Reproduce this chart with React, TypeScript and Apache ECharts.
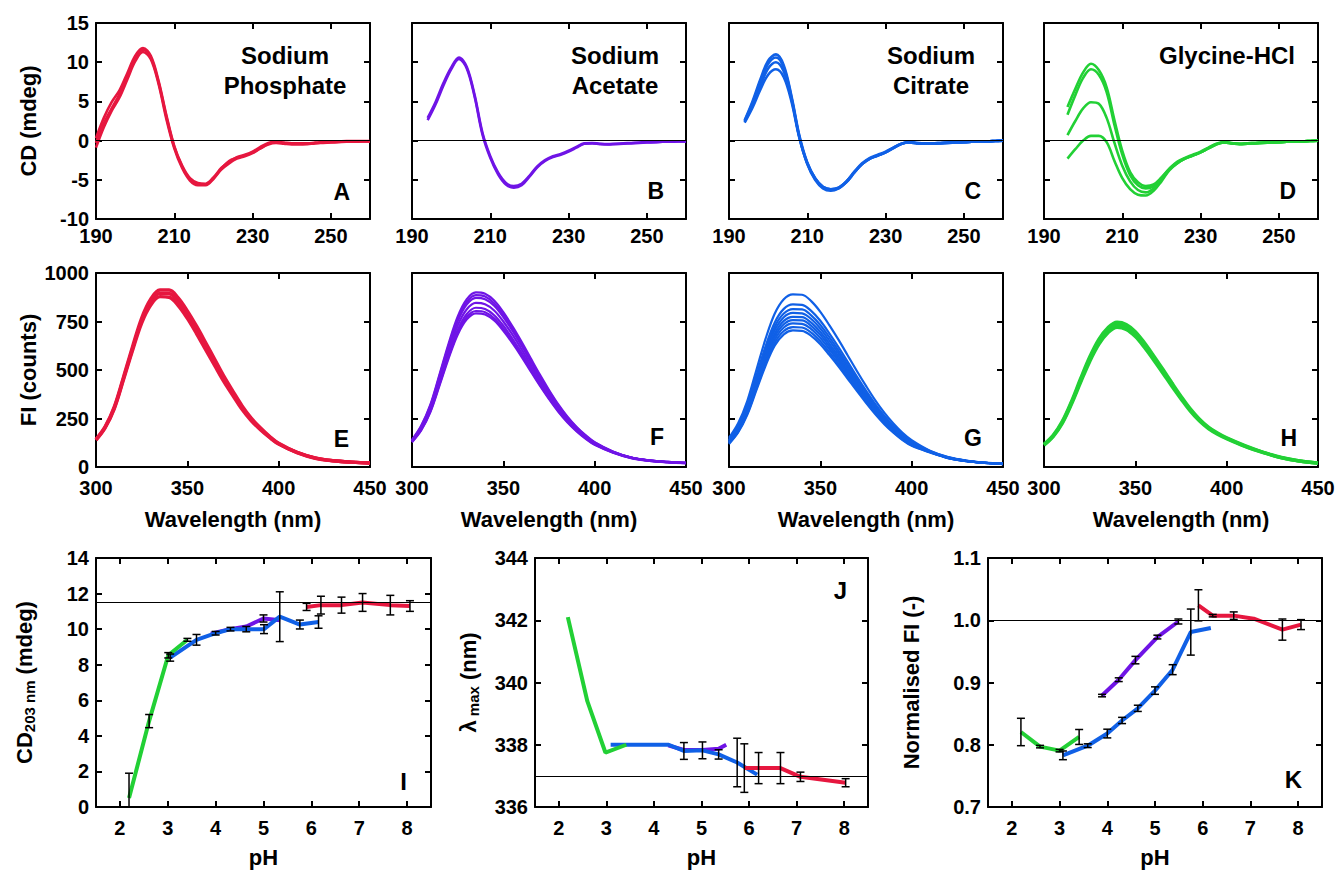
import React, { useEffect, useRef } from 'react';
import * as echarts from 'echarts';

const FONT = '"Liberation Sans", Arial, Helvetica, sans-serif';
const RED = '#E6173F';
const PURPLE = '#6F14E6';
const BLUE = '#1060E6';
const GREEN = '#22D035';

// ---------- CD spectra (panels A-D) ----------
const CD_WL = [190, 192, 194, 196, 198, 200, 202, 204, 206, 208, 210, 212, 214, 216, 218, 220, 222, 224, 226, 228, 230, 232, 234, 236, 238, 240, 242, 244, 246, 248, 250, 252, 254, 256, 258, 260];
const CD_X_TICKS = [190, 210, 230, 250];
const CD_Y_TICKS = [-10, -5, 0, 5, 10, 15];

const CD_PHOSPHATE_1 = [-0.3, 2.2, 4.1, 5.9, 8.1, 10.4, 11.6, 10.6, 7.4, 3.0, -0.8, -3.3, -4.9, -5.5, -5.6, -4.8, -3.6, -2.6, -2.2, -1.9, -1.5, -1.0, -0.4, -0.15, -0.3, -0.4, -0.4, -0.4, -0.3, -0.25, -0.2, -0.15, -0.1, -0.1, -0.1, -0.1];
const CD_PHOSPHATE_2 = [0.3, 2.9, 4.9, 6.4, 8.6, 10.8, 11.8, 10.8, 7.6, 3.2, -0.7, -3.2, -4.8, -5.4, -5.5, -4.7, -3.5, -2.7, -2.1, -1.8, -1.4, -0.8, -0.3, -0.15, -0.25, -0.35, -0.35, -0.35, -0.25, -0.2, -0.15, -0.1, -0.05, -0.05, -0.05, -0.05];
const CD_PHOSPHATE_3 = [-0.9, 1.7, 3.8, 5.5, 7.8, 10.1, 11.3, 10.4, 7.2, 2.7, -1.0, -3.5, -5.1, -5.7, -5.7, -4.9, -3.7, -2.9, -2.3, -2.0, -1.6, -1.0, -0.5, -0.3, -0.4, -0.5, -0.5, -0.45, -0.35, -0.3, -0.25, -0.2, -0.15, -0.15, -0.1, -0.1];

const CD_ACETATE_1 = [null, null, 2.9, 4.9, 7.3, 9.3, 10.6, 9.4, 5.8, 1.0, -2.0, -4.1, -5.4, -5.8, -5.5, -4.5, -3.3, -2.5, -2.0, -1.7, -1.3, -0.8, -0.35, -0.3, -0.4, -0.45, -0.4, -0.35, -0.3, -0.25, -0.2, -0.2, -0.15, -0.1, -0.1, -0.1];
const CD_ACETATE_2 = [null, null, 2.6, 4.6, 7.0, 9.1, 10.4, 9.2, 5.6, 0.8, -2.2, -4.3, -5.6, -6.0, -5.7, -4.6, -3.4, -2.6, -2.1, -1.8, -1.4, -0.9, -0.4, -0.35, -0.45, -0.5, -0.45, -0.4, -0.35, -0.3, -0.25, -0.2, -0.15, -0.15, -0.1, -0.1];

const CD_CITRATE_1 = [null, null, 2.6, 5.0, 7.8, 10.2, 11.0, 9.6, 5.6, 0.6, -2.8, -4.8, -5.9, -6.2, -6.0, -5.2, -4.0, -2.9, -2.2, -1.8, -1.4, -0.9, -0.4, -0.2, -0.3, -0.35, -0.35, -0.3, -0.25, -0.2, -0.2, -0.15, -0.1, -0.1, -0.05, 0];
const CD_CITRATE_2 = [null, null, 2.5, 4.8, 7.5, 9.8, 10.6, 9.3, 5.4, 0.4, -3.0, -5.0, -6.1, -6.4, -6.1, -5.3, -4.1, -3.0, -2.3, -1.9, -1.5, -0.95, -0.45, -0.25, -0.35, -0.4, -0.4, -0.35, -0.3, -0.25, -0.2, -0.15, -0.1, -0.1, -0.05, 0];
const CD_CITRATE_3 = [null, null, 2.4, 4.5, 7.0, 9.2, 10.0, 8.8, 5.2, 0.4, -2.9, -4.9, -6.0, -6.3, -6.1, -5.3, -4.1, -3.0, -2.3, -1.9, -1.5, -0.95, -0.45, -0.25, -0.35, -0.4, -0.4, -0.35, -0.3, -0.25, -0.2, -0.15, -0.1, -0.1, -0.05, 0];
const CD_CITRATE_4 = [null, null, 2.3, 4.2, 6.5, 8.4, 9.1, 8.1, 4.9, 0.3, -2.9, -4.8, -5.9, -6.2, -6.0, -5.2, -4.0, -3.0, -2.3, -1.9, -1.5, -0.9, -0.4, -0.2, -0.3, -0.35, -0.35, -0.3, -0.25, -0.2, -0.2, -0.15, -0.1, -0.1, -0.05, 0];

const CD_GLYCINE_1 = [null, null, null, 4.3, 6.6, 8.7, 9.8, 9.0, 6.8, 2.6, -1.3, -4.0, -5.3, -5.8, -5.6, -4.7, -3.6, -2.7, -2.2, -1.8, -1.4, -0.9, -0.4, -0.2, -0.3, -0.4, -0.35, -0.3, -0.25, -0.2, -0.2, -0.15, -0.1, -0.1, -0.05, 0];
const CD_GLYCINE_2 = [null, null, null, 3.3, 5.8, 8.0, 9.1, 8.4, 6.2, 2.0, -1.8, -4.4, -5.7, -6.1, -5.8, -4.8, -3.6, -2.8, -2.3, -1.9, -1.5, -0.95, -0.45, -0.25, -0.35, -0.4, -0.35, -0.3, -0.25, -0.2, -0.2, -0.15, -0.1, -0.1, -0.05, 0];
const CD_GLYCINE_3 = [null, null, null, 0.7, 2.5, 4.1, 4.9, 4.7, 2.9, -0.3, -3.2, -5.2, -6.3, -6.6, -6.1, -5.0, -3.7, -2.9, -2.3, -1.9, -1.5, -1.0, -0.5, -0.25, -0.35, -0.45, -0.4, -0.35, -0.3, -0.25, -0.2, -0.15, -0.1, -0.1, -0.05, 0];
const CD_GLYCINE_4 = [null, null, null, -2.3, -1.1, 0.0, 0.6, 0.6, -0.2, -2.6, -4.8, -6.2, -6.9, -7.0, -6.4, -5.2, -3.8, -2.9, -2.3, -1.9, -1.5, -1.0, -0.5, -0.25, -0.35, -0.45, -0.4, -0.35, -0.3, -0.25, -0.2, -0.15, -0.1, -0.1, -0.05, 0];

// ---------- Fluorescence spectra (panels E-H) ----------
const FI_WL = [300, 305, 310, 315, 320, 325, 330, 335, 340, 345, 350, 355, 360, 365, 370, 375, 380, 385, 390, 395, 400, 410, 420, 430, 440, 450];
const FI_X_TICKS = [300, 350, 400, 450];
const FI_Y_TICKS = [0, 250, 500, 750, 1000];

const FI_PHOSPHATE_1 = [143, 208, 310, 462, 620, 768, 866, 912, 912, 872, 805, 727, 642, 555, 468, 390, 315, 252, 202, 158, 122, 76, 47, 32, 25, 21];
const FI_PHOSPHATE_2 = [141, 205, 305, 455, 610, 755, 851, 895, 894, 852, 786, 708, 624, 539, 454, 379, 306, 245, 197, 155, 120, 75, 46, 32, 25, 21];
const FI_PHOSPHATE_3 = [139, 202, 300, 448, 600, 742, 835, 878, 875, 832, 766, 688, 605, 522, 440, 367, 296, 238, 192, 152, 118, 74, 45, 32, 25, 21];

const FI_ACETATE_1 = [140, 212, 320, 475, 635, 775, 865, 900, 893, 858, 798, 725, 645, 560, 476, 397, 324, 261, 208, 164, 128, 80, 49, 34, 26, 21];
const FI_ACETATE_2 = [138, 209, 315, 468, 625, 763, 851, 886, 879, 844, 785, 713, 635, 551, 468, 391, 319, 257, 205, 162, 126, 79, 49, 34, 26, 21];
const FI_ACETATE_3 = [136, 205, 310, 460, 615, 751, 838, 872, 865, 831, 773, 703, 625, 543, 461, 385, 314, 253, 202, 159, 124, 78, 48, 33, 26, 21];
const FI_ACETATE_4 = [134, 200, 301, 447, 597, 729, 813, 846, 839, 807, 750, 682, 606, 526, 447, 373, 305, 246, 196, 155, 121, 77, 48, 33, 25, 21];
const FI_ACETATE_5 = [131, 195, 292, 434, 580, 707, 789, 821, 814, 782, 728, 661, 588, 511, 434, 362, 296, 239, 191, 151, 118, 76, 47, 33, 25, 20];
const FI_ACETATE_6 = [130, 191, 286, 425, 567, 692, 773, 804, 798, 766, 713, 647, 576, 500, 425, 355, 290, 234, 187, 148, 116, 75, 47, 32, 25, 20];
const FI_ACETATE_7 = [128, 188, 282, 418, 559, 682, 761, 792, 786, 755, 702, 638, 568, 493, 419, 350, 286, 231, 185, 146, 114, 74, 46, 32, 24, 20];

const FI_CITRATE_1 = [150, 225, 340, 500, 660, 790, 865, 890, 888, 855, 800, 730, 655, 575, 495, 418, 345, 280, 224, 176, 138, 84, 51, 33, 23, 17];
const FI_CITRATE_2 = [141, 212, 320, 471, 622, 744, 815, 838, 836, 805, 754, 688, 617, 542, 466, 394, 325, 264, 211, 166, 130, 82, 50, 32, 22, 17];
const FI_CITRATE_3 = [137, 206, 311, 458, 604, 723, 791, 814, 813, 782, 732, 668, 599, 526, 453, 382, 316, 256, 205, 161, 126, 80, 49, 32, 22, 16];
const FI_CITRATE_4 = [134, 201, 303, 446, 589, 705, 772, 794, 792, 763, 714, 651, 584, 513, 442, 373, 308, 250, 200, 157, 123, 79, 48, 31, 22, 16];
const FI_CITRATE_5 = [131, 196, 296, 435, 574, 687, 753, 774, 773, 744, 696, 635, 570, 500, 431, 364, 300, 244, 195, 153, 120, 79, 48, 31, 22, 16];
const FI_CITRATE_6 = [128, 191, 289, 426, 562, 672, 736, 757, 756, 728, 681, 621, 557, 489, 421, 356, 294, 238, 191, 150, 117, 78, 47, 31, 21, 16];
const FI_CITRATE_7 = [125, 187, 283, 416, 548, 656, 719, 740, 738, 711, 665, 607, 544, 478, 411, 347, 287, 233, 186, 146, 115, 77, 47, 30, 21, 16];
const FI_CITRATE_8 = [122, 182, 275, 405, 535, 640, 701, 721, 719, 693, 648, 591, 531, 466, 401, 339, 279, 227, 181, 143, 112, 76, 46, 30, 21, 15];
const FI_CITRATE_9 = [119, 178, 269, 396, 522, 625, 684, 704, 702, 676, 633, 577, 518, 455, 392, 331, 273, 221, 177, 139, 109, 75, 46, 30, 21, 15];

const FI_GLYCINE_1 = [117, 163, 235, 337, 455, 567, 658, 718, 746, 735, 698, 640, 574, 505, 434, 365, 301, 248, 206, 175, 150, 110, 76, 49, 31, 20];
const FI_GLYCINE_2 = [115, 160, 230, 330, 445, 555, 645, 705, 733, 722, 685, 628, 563, 495, 425, 358, 295, 243, 202, 172, 148, 108, 75, 48, 31, 20];
const FI_GLYCINE_3 = [113, 157, 225, 323, 435, 543, 632, 692, 720, 709, 672, 616, 552, 485, 416, 351, 289, 238, 198, 169, 146, 106, 74, 47, 30, 20];

// ---------- pH dependence (panels I-K) ----------
const PH_TICKS = [2, 3, 4, 5, 6, 7, 8];

const I_Y_TICKS = [0, 2, 4, 6, 8, 10, 12, 14];
const I_GLY_PH = [2.19, 2.61, 3.01, 3.41];
const I_GLY_Y = [0.5, 4.83, 8.53, 9.4];
const I_GLY_ERR = [1.4, 0.37, 0.15, 0.08];
const I_ACE_PH = [3.9, 4.3, 4.64, 5.0, 5.35];
const I_ACE_Y = [9.75, 10.0, 10.15, 10.6, 10.5];
const I_ACE_ERR = [0, 0, 0, 0.2, 0];
const I_CIT_PH = [3.05, 3.6, 4.0, 4.31, 4.64, 5.01, 5.34, 5.76, 6.15];
const I_CIT_Y = [8.4, 9.4, 9.77, 10.0, 10.0, 10.0, 10.7, 10.26, 10.4];
const I_CIT_ERR = [0.2, 0.3, 0.1, 0.1, 0.15, 0.25, 1.4, 0.25, 0.35];
const I_PHO_PH = [5.9, 6.2, 6.63, 7.07, 7.65, 8.06];
const I_PHO_Y = [11.25, 11.35, 11.35, 11.5, 11.35, 11.3];
const I_PHO_ERR = [0.2, 0.5, 0.45, 0.5, 0.55, 0.3];
const I_REF = 11.5;

const J_Y_TICKS = [336, 338, 340, 342, 344];
const J_GLY_PH = [2.19, 2.6, 2.98, 3.42];
const J_GLY_Y = [342.1, 339.4, 337.75, 338.0];
const J_GLY_ERR = [0, 0, 0, 0];
const J_ACE_PH = [4.3, 4.63, 5.02, 5.36, 5.52];
const J_ACE_Y = [337.98, 337.83, 337.83, 337.87, 338.0];
const J_ACE_ERR = [0, 0, 0, 0, 0];
const J_CIT_PH = [3.09, 3.6, 4.0, 4.31, 4.63, 5.02, 5.36, 5.75, 6.17];
const J_CIT_Y = [338.0, 338.0, 338.0, 338.0, 337.8, 337.82, 337.69, 337.43, 337.04];
const J_CIT_ERR = [0, 0, 0, 0, 0.27, 0.27, 0.15, 0.78, 0];
const J_PHO_PH = [5.9, 6.2, 6.66, 7.08, 8.03];
const J_PHO_Y = [337.25, 337.25, 337.25, 336.97, 336.78];
const J_PHO_ERR = [0.78, 0.5, 0.5, 0.15, 0.13];
const J_REF = 337;

const K_Y_TICKS = [0.7, 0.8, 0.9, 1.0, 1.1];
const K_GLY_PH = [2.19, 2.59, 3.0, 3.41];
const K_GLY_Y = [0.8205, 0.797, 0.7905, 0.8125];
const K_GLY_ERR = [0.022, 0.002, 0.002, 0.012];
const K_ACE_PH = [3.89, 4.24, 4.59, 5.05, 5.49];
const K_ACE_Y = [0.879, 0.9045, 0.936, 0.973, 0.998];
const K_ACE_ERR = [0.002, 0.003, 0.006, 0.003, 0.004];
const K_CIT_PH = [3.07, 3.59, 4.0, 4.31, 4.64, 5.0, 5.37, 5.75, 6.17];
const K_CIT_Y = [0.783, 0.7985, 0.818, 0.839, 0.8585, 0.887, 0.9206, 0.981, 0.9875];
const K_CIT_ERR = [0.007, 0.003, 0.007, 0.005, 0.005, 0.006, 0.008, 0.037, 0];
const K_PHO_PH = [5.91, 6.21, 6.65, 7.07, 7.67, 8.06];
const K_PHO_Y = [1.024, 1.0074, 1.0074, 1.0025, 0.985, 0.993];
const K_PHO_ERR = [0.025, 0.002, 0.006, 0, 0.017, 0.008];
const K_REF = 1.0;

const CD_ZERO = 0;

function buildOption() {
  const grids: any[] = [];
  const xAxes: any[] = [];
  const yAxes: any[] = [];
  const series: any[] = [];
  const graphics: any[] = [];

  const tickStyle = { color: '#000', width: 2 };
  const labelBase = { fontSize: 20, fontWeight: 'bold', color: '#000', fontFamily: FONT, lineHeight: 16 };
  const nameStyle = {
    fontSize: 22, fontWeight: 'bold', color: '#000', fontFamily: FONT,
    rich: {
      n: { fontSize: 22, fontWeight: 'bold', color: '#000', fontFamily: FONT, verticalAlign: 'top' },
      s: { fontSize: 15, fontWeight: 'bold', color: '#000', fontFamily: FONT, verticalAlign: 'bottom', padding: [9, 0, 0, 0] },
    },
  };

  function addPanel(p: any) {
    const gi = grids.length;
    grids.push({ left: p.left, top: p.top, width: p.width, height: p.height, show: false, containLabel: false, outerBoundsMode: 'none' });
    const xBase = {
      gridIndex: gi, type: 'value', min: p.xMin, max: p.xMax, splitLine: { show: false },
      axisLine: { show: true, onZero: false, lineStyle: tickStyle },
      axisTick: { show: true, inside: true, length: 6, customValues: p.xTicks, lineStyle: tickStyle },
    };
    const yBase = {
      gridIndex: gi, type: 'value', min: p.yMin, max: p.yMax, splitLine: { show: false },
      axisLine: { show: true, onZero: false, lineStyle: tickStyle },
      axisTick: { show: true, inside: true, length: 6, customValues: p.yTicks, lineStyle: tickStyle },
    };
    const xi = xAxes.length;
    xAxes.push({
      ...xBase, position: 'bottom',
      axisLabel: { ...labelBase, show: true, customValues: p.xTicks, margin: p.xMargin, formatter: (v: number) => String(v) },
      name: p.xName || '', nameLocation: 'middle', nameGap: p.xNameGap || 0, nameTextStyle: nameStyle,
    });
    xAxes.push({ ...xBase, position: 'top', axisLabel: { show: false } });
    const yi = yAxes.length;
    yAxes.push({
      ...yBase, position: 'left',
      axisLabel: { ...labelBase, show: !!p.yLabels, customValues: p.yTicks, margin: 7, formatter: p.yFormatter || ((v: number) => String(v)) },
      name: p.yName || '', nameLocation: 'middle', nameGap: p.yNameGap || 0, nameTextStyle: nameStyle,
    });
    yAxes.push({ ...yBase, position: 'right', axisLabel: { show: false } });
    return { xi, yi };
  }

  function refLine(v: number) {
    return {
      silent: true, symbol: ['none', 'none'], label: { show: false }, animation: false,
      lineStyle: { color: '#000', width: 1.2, type: 'solid' },
      data: [{ yAxis: v }],
    };
  }

  function addCurves(ax: any, xs: number[], list: any[][], color: string, width: number, ref?: number) {
    list.forEach((ys, k) => {
      const data = xs.map((x, i) => [x, ys[i]]).filter((d) => d[1] !== null && d[1] !== undefined);
      const s: any = {
        type: 'line', xAxisIndex: ax.xi, yAxisIndex: ax.yi, data, showSymbol: false, symbol: 'none',
        smooth: 0.35, lineStyle: { color, width }, itemStyle: { color }, silent: true, clip: true, z: 3,
      };
      if (k === 0 && ref !== undefined) s.markLine = refLine(ref);
      series.push(s);
    });
  }

  function addPH(ax: any, groups: any[], ref: number) {
    const bars: number[][] = [];
    groups.forEach((g, k) => {
      const s: any = {
        type: 'line', xAxisIndex: ax.xi, yAxisIndex: ax.yi,
        data: g.ph.map((x: number, i: number) => [x, g.y[i]]),
        showSymbol: false, symbol: 'none', lineStyle: { color: g.color, width: 4 }, itemStyle: { color: g.color },
        silent: true, clip: true, z: 3,
      };
      if (k === 0) s.markLine = refLine(ref);
      series.push(s);
      g.ph.forEach((x: number, i: number) => {
        if (g.err[i] > 0) bars.push([x, g.y[i] - g.err[i], g.y[i] + g.err[i]]);
      });
    });
    series.push({
      type: 'custom', xAxisIndex: ax.xi, yAxisIndex: ax.yi, data: bars, clip: true, silent: true, z: 10,
      encode: { x: 0, y: [1, 2] },
      renderItem: (params: any, api: any) => {
        const x = api.value(0);
        const lo = api.coord([x, api.value(1)]);
        const hi = api.coord([x, api.value(2)]);
        const hw = 4;
        const style = { stroke: '#000', lineWidth: 1.5 };
        return {
          type: 'group',
          children: [
            { type: 'line', shape: { x1: lo[0], y1: lo[1], x2: hi[0], y2: hi[1] }, style },
            { type: 'line', shape: { x1: lo[0] - hw, y1: lo[1], x2: lo[0] + hw, y2: lo[1] }, style },
            { type: 'line', shape: { x1: hi[0] - hw, y1: hi[1], x2: hi[0] + hw, y2: hi[1] }, style },
          ],
        };
      },
    });
  }

  const LEFTS = [96, 412, 729, 1044];
  const W = 274;

  // Row 1: CD
  const cdSets = [
    { curves: [CD_PHOSPHATE_3, CD_PHOSPHATE_2, CD_PHOSPHATE_1], color: RED },
    { curves: [CD_ACETATE_2, CD_ACETATE_1], color: PURPLE },
    { curves: [CD_CITRATE_4, CD_CITRATE_3, CD_CITRATE_2, CD_CITRATE_1], color: BLUE },
    { curves: [CD_GLYCINE_4, CD_GLYCINE_3, CD_GLYCINE_2, CD_GLYCINE_1], color: GREEN },
  ];
  cdSets.forEach((set, i) => {
    const ax = addPanel({
      left: LEFTS[i], top: 23, width: W, height: 196,
      xMin: 190, xMax: 260, xTicks: CD_X_TICKS, xMargin: 9,
      yMin: -10, yMax: 15, yTicks: CD_Y_TICKS, yLabels: i === 0,
      yName: i === 0 ? 'CD (mdeg)' : '', yNameGap: 57,
    });
    addCurves(ax, CD_WL, set.curves, set.color, 2.6, CD_ZERO);
  });

  // Row 2: FI
  const fiSets = [
    { curves: [FI_PHOSPHATE_3, FI_PHOSPHATE_2, FI_PHOSPHATE_1], color: RED },
    { curves: [FI_ACETATE_7, FI_ACETATE_6, FI_ACETATE_5, FI_ACETATE_4, FI_ACETATE_3, FI_ACETATE_2, FI_ACETATE_1], color: PURPLE },
    { curves: [FI_CITRATE_9, FI_CITRATE_8, FI_CITRATE_7, FI_CITRATE_6, FI_CITRATE_5, FI_CITRATE_4, FI_CITRATE_3, FI_CITRATE_2, FI_CITRATE_1], color: BLUE },
    { curves: [FI_GLYCINE_3, FI_GLYCINE_2, FI_GLYCINE_1], color: GREEN },
  ];
  fiSets.forEach((set, i) => {
    const ax = addPanel({
      left: LEFTS[i], top: 273, width: W, height: 194,
      xMin: 300, xMax: 450, xTicks: FI_X_TICKS, xMargin: 13,
      xName: 'Wavelength (nm)', xNameGap: 41,
      yMin: 0, yMax: 1000, yTicks: FI_Y_TICKS, yLabels: i === 0,
      yName: i === 0 ? 'FI (counts)' : '', yNameGap: 57,
    });
    addCurves(ax, FI_WL, set.curves, set.color, i === 0 || i === 3 ? 3.4 : 2.2);
  });

  // Row 3
  const axI = addPanel({
    left: 96, top: 558, width: 335, height: 249,
    xMin: 1.5, xMax: 8.5, xTicks: PH_TICKS, xMargin: 13, xName: 'pH', xNameGap: 39,
    yMin: 0, yMax: 14, yTicks: I_Y_TICKS, yLabels: true,
    yName: '{n|CD}{s|203 nm}{n| (mdeg)}', yNameGap: 59,
  });
  addPH(axI, [
    { ph: I_ACE_PH, y: I_ACE_Y, err: I_ACE_ERR, color: PURPLE },
    { ph: I_CIT_PH, y: I_CIT_Y, err: I_CIT_ERR, color: BLUE },
    { ph: I_GLY_PH, y: I_GLY_Y, err: I_GLY_ERR, color: GREEN },
    { ph: I_PHO_PH, y: I_PHO_Y, err: I_PHO_ERR, color: RED },
  ], I_REF);

  const axJ = addPanel({
    left: 535, top: 558, width: 333, height: 249,
    xMin: 1.5, xMax: 8.5, xTicks: PH_TICKS, xMargin: 13, xName: 'pH', xNameGap: 39,
    yMin: 336, yMax: 344, yTicks: J_Y_TICKS, yLabels: true,
    yName: '{n|λ}{s| max}{n| (nm)}', yNameGap: 54,
  });
  addPH(axJ, [
    { ph: J_ACE_PH, y: J_ACE_Y, err: J_ACE_ERR, color: PURPLE },
    { ph: J_CIT_PH, y: J_CIT_Y, err: J_CIT_ERR, color: BLUE },
    { ph: J_GLY_PH, y: J_GLY_Y, err: J_GLY_ERR, color: GREEN },
    { ph: J_PHO_PH, y: J_PHO_Y, err: J_PHO_ERR, color: RED },
  ], J_REF);

  const axK = addPanel({
    left: 988, top: 558, width: 334, height: 249,
    xMin: 1.5, xMax: 8.5, xTicks: PH_TICKS, xMargin: 13, xName: 'pH', xNameGap: 39,
    yMin: 0.7, yMax: 1.1, yTicks: K_Y_TICKS, yLabels: true,
    yFormatter: (v: number) => v.toFixed(1),
    yName: 'Normalised FI (-)', yNameGap: 66,
  });
  addPH(axK, [
    { ph: K_ACE_PH, y: K_ACE_Y, err: K_ACE_ERR, color: PURPLE },
    { ph: K_CIT_PH, y: K_CIT_Y, err: K_CIT_ERR, color: BLUE },
    { ph: K_GLY_PH, y: K_GLY_Y, err: K_GLY_ERR, color: GREEN },
    { ph: K_PHO_PH, y: K_PHO_Y, err: K_PHO_ERR, color: RED },
  ], K_REF);

  // Annotations
  const txt = (text: string, x: number, y: number, size: number, align = 'right', lh = 30) => ({
    type: 'text', x, y, silent: true, z: 20,
    style: { text, fill: '#000', fontSize: size, fontWeight: 'bold', fontFamily: FONT, align, verticalAlign: 'middle', lineHeight: lh },
  });
  graphics.push(txt('Sodium\nPhosphate', 285, 70, 24, 'center'));
  graphics.push(txt('Sodium\nAcetate', 615, 70, 24, 'center'));
  graphics.push(txt('Sodium\nCitrate', 931, 70, 24, 'center'));
  graphics.push(txt('Glycine-HCl', 1227, 55, 24, 'center'));
  graphics.push(txt('A', 350, 192, 23));
  graphics.push(txt('B', 664, 191, 23));
  graphics.push(txt('C', 981, 191, 23));
  graphics.push(txt('D', 1296, 191, 23));
  graphics.push(txt('E', 349, 439, 23));
  graphics.push(txt('F', 664, 437, 23));
  graphics.push(txt('G', 982, 438, 23));
  graphics.push(txt('H', 1297, 438, 23));
  graphics.push(txt('I', 407, 781, 24));
  graphics.push(txt('J', 847, 590, 24));
  graphics.push(txt('K', 1302, 779, 24));

  return {
    animation: false,
    backgroundColor: '#fff',
    textStyle: { fontFamily: FONT },
    grid: grids,
    xAxis: xAxes,
    yAxis: yAxes,
    series,
    graphic: graphics,
  };
}

export default function App() {
  const ref = useRef<HTMLDivElement>(null);
  useEffect(() => {
    const chart = echarts.init(ref.current!, null, { renderer: 'svg' });
    chart.setOption(buildOption() as any);
    return () => chart.dispose();
  }, []);
  return (
    <div
      ref={ref}
      style={{ position: 'absolute', left: 0, top: 0, width: 1337, height: 870, background: '#fff' }}
    />
  );
}
